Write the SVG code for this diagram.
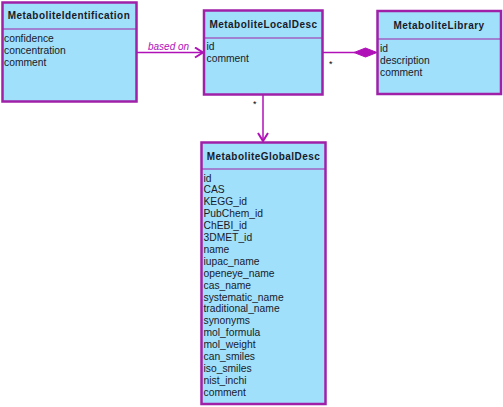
<svg xmlns="http://www.w3.org/2000/svg" width="503" height="407" viewBox="0 0 503 407">
<defs>
<style>
.box{fill:#A0E0FA;stroke:#A020A8;stroke-width:2.5}
.sep{stroke:#A020A8;stroke-width:1.2}
.title{font-family:"Liberation Sans",Arial,sans-serif;font-size:10px;font-weight:bold;letter-spacing:0.45px;fill:#1a1a2a;text-anchor:middle}
.attr{font-family:"Liberation Sans",Arial,sans-serif;font-size:10.3px;fill:#1a1a2a}
.conn{stroke:#B010B8;stroke-width:1.5;fill:none}
.lbl{font-family:"Liberation Sans",Arial,sans-serif;font-size:10px;font-style:italic;fill:#B010B8}
.mult{font-family:"Liberation Sans",Arial,sans-serif;font-size:9px;fill:#000}
</style>
<marker id="open" markerWidth="12" markerHeight="12" refX="10" refY="6" orient="auto" markerUnits="userSpaceOnUse">
<path d="M2,1 L10,6 L2,11" fill="none" stroke="#B010B8" stroke-width="2"/>
</marker>
</defs>
<g id="connectors">
<line class="conn" x1="137" y1="52.5" x2="203" y2="52.5" marker-end="url(#open)"/>
<text class="lbl" x="148" y="50">based on</text>
<line class="conn" x1="323" y1="52.5" x2="355" y2="52.5"/>
<polygon points="354,52.5 365.5,48 377,52.5 365.5,57" fill="#B010B8" stroke="#B010B8" stroke-width="1"/>
<text class="mult" x="329" y="67">*</text>
<line class="conn" x1="263" y1="95" x2="263" y2="141" marker-end="url(#open)"/>
<text class="mult" x="253" y="107">*</text>
</g>
<g id="MetaboliteIdentification">
<rect class="box" x="2.5" y="2.5" width="134" height="99"/>
<line class="sep" x1="2.5" y1="29" x2="136.5" y2="29"/>
<text class="title" x="69" y="19">MetaboliteIdentification</text>
<text class="attr" x="4" y="41.5">confidence</text>
<text class="attr" x="4" y="53.5">concentration</text>
<text class="attr" x="4" y="65.5">comment</text>
</g>
<g id="MetaboliteLocalDesc">
<rect class="box" x="204" y="10.5" width="118.5" height="84"/>
<line class="sep" x1="204" y1="38" x2="322.5" y2="38"/>
<text class="title" x="263.5" y="27.5">MetaboliteLocalDesc</text>
<text class="attr" x="206.5" y="49.5">id</text>
<text class="attr" x="206.5" y="61.5">comment</text>
</g>
<g id="MetaboliteLibrary">
<rect class="box" x="377.5" y="11" width="123.5" height="83"/>
<line class="sep" x1="377.5" y1="39" x2="501" y2="39"/>
<text class="title" x="439" y="28.5">MetaboliteLibrary</text>
<text class="attr" x="380" y="51.5">id</text>
<text class="attr" x="380" y="63.5">description</text>
<text class="attr" x="380" y="75.5">comment</text>
</g>
<g id="MetaboliteGlobalDesc">
<rect class="box" x="201.5" y="142.5" width="124" height="261.5"/>
<line class="sep" x1="201.5" y1="169" x2="325.5" y2="169"/>
<text class="title" x="263.5" y="160">MetaboliteGlobalDesc</text>
<text class="attr" x="203.5" y="181.5">id</text>
<text class="attr" x="203.5" y="193.4">CAS</text>
<text class="attr" x="203.5" y="205.3">KEGG_id</text>
<text class="attr" x="203.5" y="217.2">PubChem_id</text>
<text class="attr" x="203.5" y="229.1">ChEBI_id</text>
<text class="attr" x="203.5" y="241">3DMET_id</text>
<text class="attr" x="203.5" y="252.9">name</text>
<text class="attr" x="203.5" y="264.8">iupac_name</text>
<text class="attr" x="203.5" y="276.7">openeye_name</text>
<text class="attr" x="203.5" y="288.6">cas_name</text>
<text class="attr" x="203.5" y="300.5">systematic_name</text>
<text class="attr" x="203.5" y="312.4">traditional_name</text>
<text class="attr" x="203.5" y="324.3">synonyms</text>
<text class="attr" x="203.5" y="336.2">mol_formula</text>
<text class="attr" x="203.5" y="348.1">mol_weight</text>
<text class="attr" x="203.5" y="360">can_smiles</text>
<text class="attr" x="203.5" y="371.9">iso_smiles</text>
<text class="attr" x="203.5" y="383.8">nist_inchi</text>
<text class="attr" x="203.5" y="395.7">comment</text>
</g>
</svg>
